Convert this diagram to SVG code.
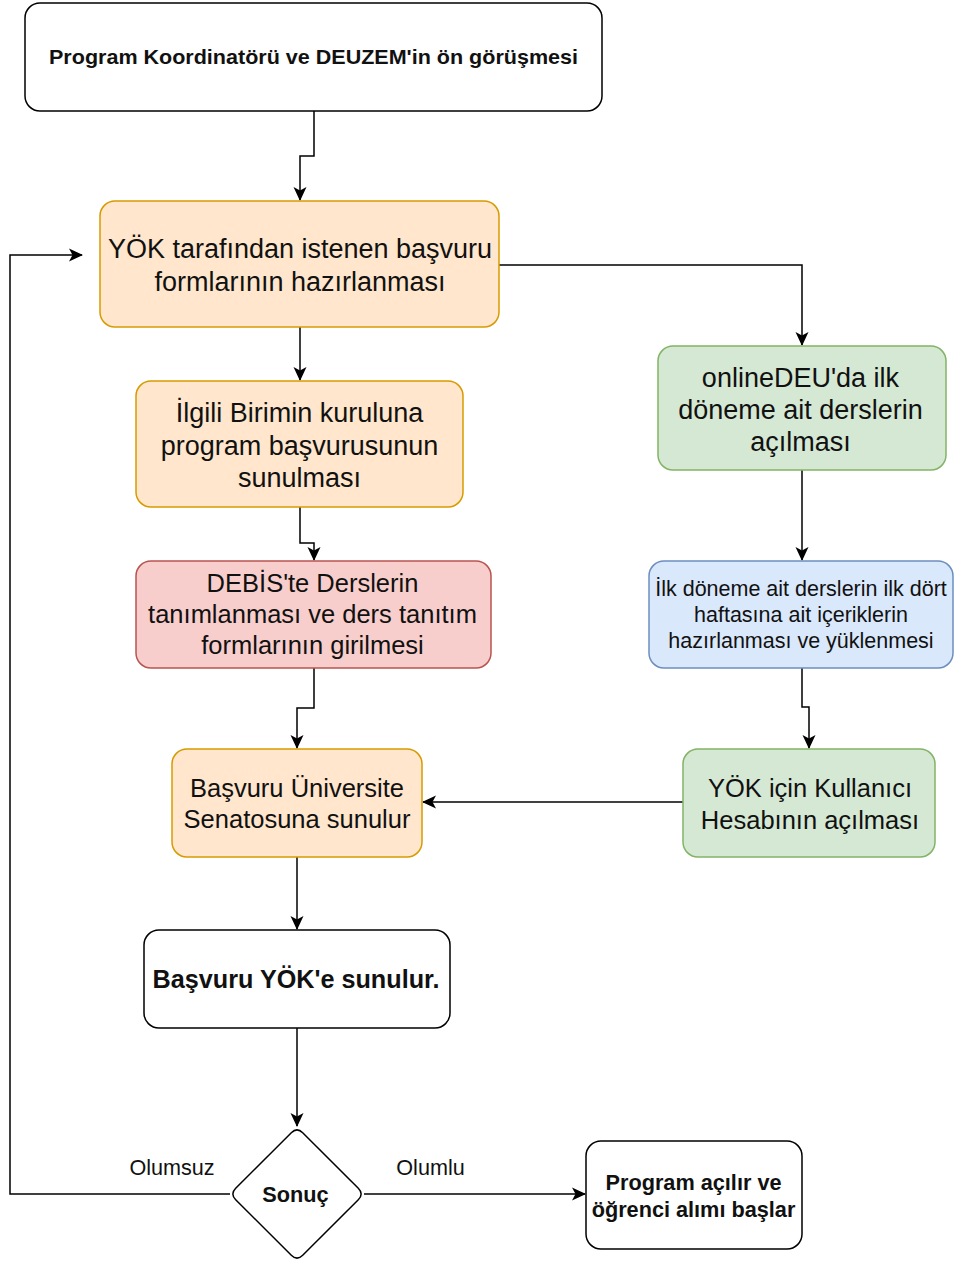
<svg xmlns="http://www.w3.org/2000/svg" width="954" height="1266" viewBox="0 0 954 1266">
<defs>
<marker id="arr" viewBox="0 0 14 14" markerWidth="14" markerHeight="14" refX="13" refY="7" orient="auto" markerUnits="userSpaceOnUse">
<path d="M0,0.5 L14,7 L0,13.5 L3.5,7 Z" fill="#000"/>
</marker>
<style>
.edge{fill:none;stroke:#000;stroke-width:1.5;marker-end:url(#arr);}
.w{fill:#fff;stroke:#000;stroke-width:1.5;}
.o{fill:#ffe6cc;stroke:#d79b00;stroke-width:1.5;}
.g{fill:#d5e8d4;stroke:#82b366;stroke-width:1.5;}
.r{fill:#f8cecc;stroke:#b85450;stroke-width:1.5;}
.b{fill:#dae8fc;stroke:#6c8ebf;stroke-width:1.5;}
text{font-family:"Liberation Sans",Arial,Helvetica,sans-serif;fill:#111;text-anchor:middle;}
.t27{font-size:27px;}
.t255{font-size:25.5px;}
.t215{font-size:21.5px;}
.bold{font-weight:bold;}
.lbl{font-size:21.6px;}
</style>
</defs>
<rect width="954" height="1266" fill="#fff"/>
<g id="connectors">
<path class="edge" d="M314,111 V156 H300 V200"/>
<path class="edge" d="M300,327 V380"/>
<path class="edge" d="M300,507 V543 H314 V560"/>
<path class="edge" d="M314,668 V708 H297 V748"/>
<path class="edge" d="M297,857 V929"/>
<path class="edge" d="M297,1028 V1126"/>
<path class="edge" d="M499,265 H802 V345"/>
<path class="edge" d="M802,470 V560"/>
<path class="edge" d="M802,668 V707 H809 V748"/>
<path class="edge" d="M683,802 H423"/>
<path class="edge" d="M230,1194 H10 V255 H82"/>
<path class="edge" d="M364,1194 H585"/>
<text class="lbl" x="172" y="1174.5">Olumsuz</text>
<text class="lbl" x="430.5" y="1174.5">Olumlu</text>
</g>
<g id="n1">
<rect class="w" x="25" y="3" width="577" height="108" rx="15"/>
<text class="bold" x="313.5" y="63.5" font-size="21" textLength="529" lengthAdjust="spacingAndGlyphs">Program Koordinatörü ve DEUZEM'in ön görüşmesi</text>
</g>
<g id="n2">
<rect class="o" x="100" y="201" width="399" height="126" rx="15"/>
<text class="t27" x="300" y="257.5">YÖK tarafından istenen başvuru</text>
<text class="t27" x="300" y="290.5">formlarının hazırlanması</text>
</g>
<g id="n3">
<rect class="o" x="136" y="381" width="327" height="126" rx="15"/>
<text class="t27" x="299.5" y="421.5">İlgili Birimin kuruluna</text>
<text class="t27" x="299.5" y="454.5">program başvurusunun</text>
<text class="t27" x="299.5" y="486.5">sunulması</text>
</g>
<g id="n4">
<rect class="r" x="136" y="561" width="355" height="107" rx="15"/>
<text class="t255" x="312.5" y="592">DEBİS'te Derslerin</text>
<text class="t255" x="312.5" y="623">tanımlanması ve ders tanıtım</text>
<text class="t255" x="312.5" y="654">formlarının girilmesi</text>
</g>
<g id="n5">
<rect class="o" x="172" y="749" width="250" height="108" rx="15"/>
<text class="t255" x="297" y="797">Başvuru Üniversite</text>
<text class="t255" x="297" y="828">Senatosuna sunulur</text>
</g>
<g id="n6">
<rect class="g" x="658" y="346" width="288" height="124" rx="15"/>
<text class="t27" x="800.5" y="386.5">onlineDEU'da ilk</text>
<text class="t27" x="800.5" y="418.5">döneme ait derslerin</text>
<text class="t27" x="800.5" y="450.5">açılması</text>
</g>
<g id="n7">
<rect class="b" x="649" y="561" width="304" height="107" rx="15"/>
<text class="t215" x="801" y="595.5">İlk döneme ait derslerin ilk dört</text>
<text class="t215" x="801" y="621.5">haftasına ait içeriklerin</text>
<text class="t215" x="801" y="647.5">hazırlanması ve yüklenmesi</text>
</g>
<g id="n8">
<rect class="g" x="683" y="749" width="252" height="108" rx="15"/>
<text class="t255" x="810" y="797">YÖK için Kullanıcı</text>
<text class="t255" x="810" y="829">Hesabının açılması</text>
</g>
<g id="n9">
<rect class="w" x="144" y="930" width="306" height="98" rx="15"/>
<text class="bold" x="296" y="988" font-size="25.2">Başvuru YÖK'e sunulur.</text>
</g>
<g id="n10">
<path class="w" d="M291.3,1132.7 Q297,1127 302.7,1132.7 L358.3,1188.3 Q364,1194 358.3,1199.7 L302.7,1255.3 Q297,1261 291.3,1255.3 L235.7,1199.7 Q230,1194 235.7,1188.3 Z"/>
<text class="bold" x="295.5" y="1201.5" font-size="21.7">Sonuç</text>
</g>
<g id="n11">
<rect class="w" x="586" y="1141" width="216" height="108" rx="15"/>
<text class="bold" x="693.5" y="1189.5" font-size="21.7">Program açılır ve</text>
<text class="bold" x="693.5" y="1216.5" font-size="21.7">öğrenci alımı başlar</text>
</g>
</svg>
